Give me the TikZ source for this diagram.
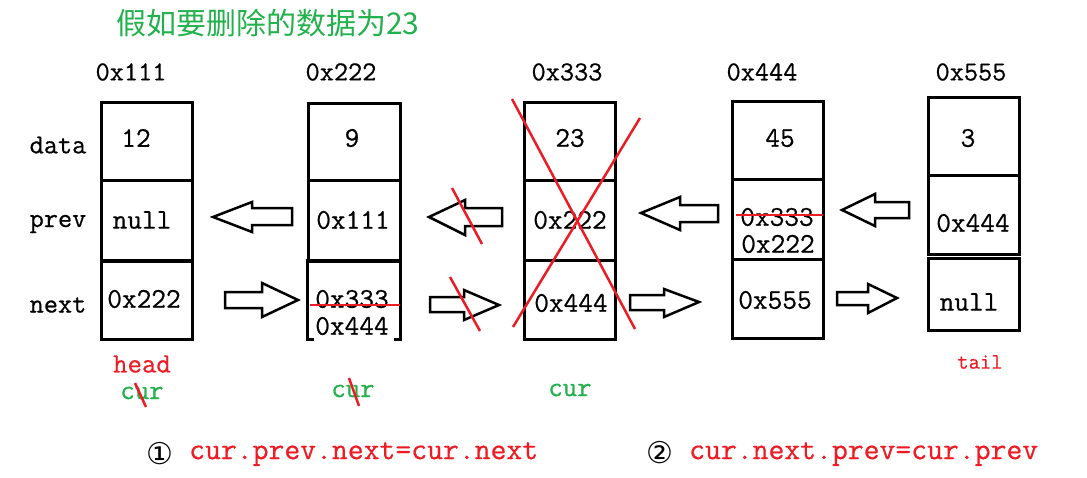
\documentclass[tikz,border=0pt]{standalone}
\usepackage{fontspec}
\newfontfamily\cjk{Noto Sans CJK SC}
\newfontfamily\symfont{DejaVu Sans}
\newfontfamily\mono[FakeBold=0.6]{Latin Modern Mono}
\definecolor{pgreen}{RGB}{34,177,76}
\definecolor{pred}{RGB}{237,28,36}
\newcommand{\blockarrow}[8]{%
  \draw[barrow] (#1,#2) -- (#3,#4) -- (#3,#5) -- (#6,#5) -- (#6,#7) -- (#3,#7) -- (#3,#8) -- cycle;}
\begin{document}
\begin{tikzpicture}[x=1pt,y=-1pt,
  cell/.style={draw=black,line width=3pt,rectangle,inner sep=0pt},
  val/.style={font=\mono\fontsize{28.5}{30}\selectfont,inner sep=0pt,anchor=center},
  lab/.style={font=\mono\fontsize{27.5}{30}\selectfont,inner sep=0pt},
  barrow/.style={draw=black,line width=2.5pt,line join=miter,fill=white},
  strike/.style={draw=pred,line width=2.5pt},
  formula/.style={font=\mono\fontsize{30.8}{32}\selectfont,text=pred,inner sep=0pt,anchor=west}]
\useasboundingbox (0,0) rectangle (1087,477);
% title
\node[inner sep=0pt,text=pgreen,font=\cjk\fontsize{30}{32}\selectfont,anchor=west] (title) at (116,23) {假如要删除的数据为23};
% address labels
\node[lab] (a1) at (131,72) {0x111};
\node[lab] (a2) at (341,72) {0x222};
\node[lab] (a3) at (567,72) {0x333};
\node[lab] (a4) at (762,72) {0x444};
\node[lab] (a5) at (971,72) {0x555};
% row labels
\node[lab] (ld) at (58,145) {data};
\node[lab] (lp) at (58,224) {prev};
\node[lab] (ln) at (58,305) {next};
% box 1
\node[cell,minimum width=91pt,minimum height=78pt] (b1d) at (146.5,141.5) {};
\node[cell,minimum width=91pt,minimum height=80pt] (b1p) at (146.5,220.5) {};
\node[cell,minimum width=91pt,minimum height=78pt] (b1n) at (146.5,300) {};
% box 2
\node[cell,minimum width=92pt,minimum height=77pt] (b2d) at (354,141.5) {};
\node[cell,minimum width=92pt,minimum height=81pt] (b2p) at (354,220.5) {};
\node[inner sep=0pt,minimum width=92pt,minimum height=78pt] (b2n) at (354,300) {};
\draw[line width=3pt] ([xshift=6pt]b2n.south west) -- (b2n.south west) -- (b2n.north west) -- (b2n.north east) -- (b2n.south east) -- ([xshift=-6pt]b2n.south east);
% box 3
\node[cell,minimum width=91pt,minimum height=78pt] (b3d) at (569.5,141) {};
\node[cell,minimum width=91pt,minimum height=80pt] (b3p) at (569.5,220) {};
\node[cell,minimum width=91pt,minimum height=79pt] (b3n) at (569.5,299.5) {};
% box 4
\node[cell,minimum width=91pt,minimum height=78pt] (b4d) at (777.5,140) {};
\node[cell,minimum width=91pt,minimum height=80pt] (b4p) at (777.5,219) {};
\node[cell,minimum width=91pt,minimum height=79pt] (b4n) at (777.5,298.5) {};
% box 5
\node[cell,minimum width=91pt,minimum height=78pt] (b5d) at (973.5,136) {};
\node[cell,minimum width=91pt,minimum height=79pt] (b5p) at (973.5,214.5) {};
\node[cell,minimum width=91pt,minimum height=72pt] (b5n) at (973.5,294) {};
% values
\node[val] (v1d) at (136,138) {12};
\node[val] (v1p) at (142,220) {null};
\node[val] (v1n) at (144,299) {0x222};
\node[val] (v2d) at (352,138) {9};
\node[val] (v2p) at (353,220) {0x111};
\node[val] (v2n) at (352,299) {0x333};
\node[val] (v2n2) at (352,326) {0x444};
\node[val] (v3d) at (570,138) {23};
\node[val] (v3p) at (570,220) {0x222};
\node[val] (v3n) at (571,303) {0x444};
\node[val] (v4d) at (780,138) {45};
\node[val] (v4p) at (777,217) {0x333};
\node[val] (v4p2) at (778,244) {0x222};
\node[val] (v4n) at (775,300) {0x555};
\node[val] (v5d) at (968,138) {3};
\node[val] (v5p) at (973,223) {0x444};
\node[val] (v5n) at (969,302) {null};
% block arrows
\blockarrow{213}{217}{252}{202}{208}{292}{225}{232}
\blockarrow{429}{217}{465}{200}{208}{502}{226}{235}
\blockarrow{641}{213}{680}{197}{205}{718}{222}{230}
\blockarrow{842}{210}{875}{194}{202}{909}{218}{226}
\blockarrow{298}{300}{262}{283}{292}{225}{308}{317}
\blockarrow{499}{305}{464}{290}{297}{430}{312}{320}
\blockarrow{699}{302}{664}{289}{295}{630}{310}{317}
\blockarrow{897}{298}{868}{284}{292}{837}{305}{313}
% red strikes
\draw[strike] (452,188) -- (482,244);
\draw[strike] (450,277) -- (480,331);
\draw[strike] (512,99) -- (635,329);
\draw[strike] (640,118) -- (513,327);
\draw[strike] (310,305) -- (400,305);
\draw[strike] (736,215) -- (823,215);
% bottom labels
\node[lab,text=pred,font=\mono\fontsize{28}{30}\selectfont] (head) at (142,364) {head};
\node[lab,text=pgreen,font=\mono\fontsize{28}{30}\selectfont] (c1) at (142,393) {cur};
\draw[strike] (135,383) -- (146,407);
\node[lab,text=pgreen,font=\mono\fontsize{28}{30}\selectfont] (c2) at (353,391) {cur};
\draw[strike] (349,378) -- (359,406);
\node[lab,text=pgreen,font=\mono\fontsize{28}{30}\selectfont] (c3) at (570,390) {cur};
\node[lab,text=pred,font=\mono\fontsize{22}{24}\selectfont] (tail) at (980,362) {tail};
% formulas
\node[inner sep=0pt,font=\symfont\fontsize{30}{32}\selectfont] (n1) at (160,454) {①};
\node[formula] (f1) at (189,454) {cur.prev.next=cur.next};
\node[inner sep=0pt,font=\symfont\fontsize{30}{32}\selectfont] (n2) at (660,453) {②};
\node[formula] (f2) at (689,454) {cur.next.prev=cur.prev};
\end{tikzpicture}
\end{document}
